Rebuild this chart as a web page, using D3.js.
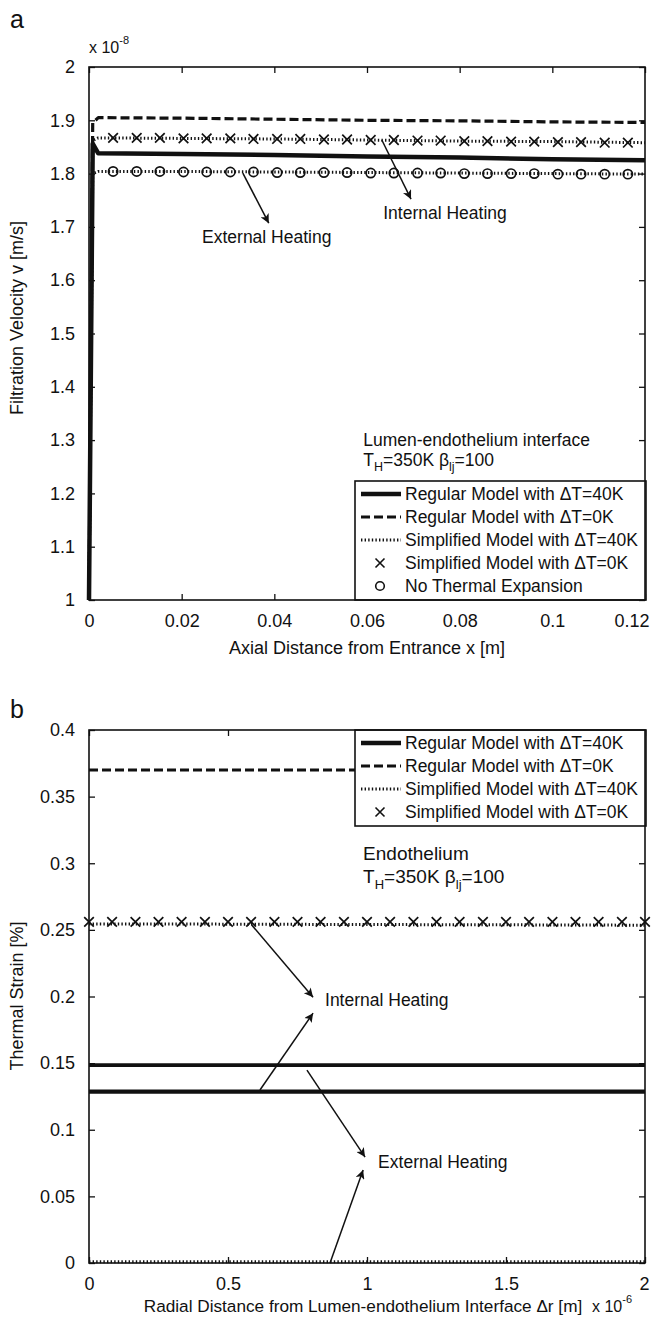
<!DOCTYPE html>
<html>
<head>
<meta charset="utf-8">
<script src="https://cdn.jsdelivr.net/npm/d3@7"></script>
<style>
  html, body { margin: 0; padding: 0; background: #fff; }
  svg text { font-family: "Liberation Sans", Arial, sans-serif; fill: #111; }
</style>
</head>
<body>
<svg id="fig" width="652" height="1320"></svg>
<script>
// ---------- Panel a: filtration velocity along the axis ----------
const axialX        = [0, 0.0008, 0.002, 0.02, 0.04, 0.06, 0.08, 0.10, 0.12];
const regular40A    = [1.0, 1.856, 1.838, 1.837, 1.835, 1.832, 1.830, 1.827, 1.825];
const regular0A     = [1.0, 1.895, 1.905, 1.904, 1.902, 1.900, 1.899, 1.897, 1.896];
const simplified40A = [1.0, 1.862, 1.867, 1.866, 1.865, 1.863, 1.861, 1.860, 1.858];
const noExpLineA    = [1.0, 1.800, 1.804, 1.804, 1.803, 1.802, 1.801, 1.800, 1.799];

const markerXA = [0.0052, 0.0103, 0.0153, 0.0204, 0.0254, 0.0305, 0.0355, 0.0406,
                  0.0456, 0.0507, 0.0557, 0.0608, 0.0658, 0.0709, 0.0759, 0.0810,
                  0.0860, 0.0911, 0.0961, 0.1012, 0.1062, 0.1113, 0.1163];
const simplified0A = [1.867, 1.867, 1.867, 1.866, 1.866, 1.866, 1.865, 1.865,
                      1.865, 1.864, 1.864, 1.863, 1.863, 1.862, 1.862, 1.861,
                      1.861, 1.860, 1.860, 1.859, 1.859, 1.858, 1.858];
const noExpansionA = [1.804, 1.804, 1.804, 1.803, 1.803, 1.803, 1.803, 1.802,
                      1.802, 1.802, 1.802, 1.801, 1.801, 1.801, 1.801, 1.800,
                      1.800, 1.800, 1.800, 1.799, 1.799, 1.799, 1.799];

const xTicksA = [0, 0.02, 0.04, 0.06, 0.08, 0.1, 0.12];
const yTicksA = [1, 1.1, 1.2, 1.3, 1.4, 1.5, 1.6, 1.7, 1.8, 1.9, 2];

// ---------- Panel b: thermal strain across the endothelium ----------
const radialX        = [0, 0.5, 1.0, 1.5, 2.0];           // x 10^-6 m
const regular0B      = [0.370, 0.370, 0.370, 0.370, 0.370];
const simplified40BI = [0.2545, 0.2543, 0.2540, 0.2538, 0.2535];
const regular40BE    = [0.1485, 0.1485, 0.1485, 0.1485, 0.1485];
const regular40BI    = [0.1286, 0.1286, 0.1286, 0.1286, 0.1286];
const simplified40BE = [0.001, 0.001, 0.001, 0.001, 0.001];

const markerXB = [0, 0.083, 0.167, 0.25, 0.333, 0.417, 0.5, 0.583, 0.667, 0.75,
                  0.833, 0.917, 1.0, 1.083, 1.167, 1.25, 1.333, 1.417, 1.5, 1.583,
                  1.667, 1.75, 1.833, 1.917, 2.0];
const simplified0B = [0.256, 0.256, 0.256, 0.256, 0.256, 0.256, 0.256, 0.256, 0.256,
                      0.256, 0.256, 0.256, 0.256, 0.256, 0.256, 0.256, 0.256, 0.256,
                      0.256, 0.256, 0.256, 0.256, 0.256, 0.256, 0.256];

const xTicksB = [0, 0.5, 1, 1.5, 2];
const yTicksB = [0, 0.05, 0.1, 0.15, 0.2, 0.25, 0.3, 0.35, 0.4];

const legendNames = [
  "Regular Model with \u0394T=40K",
  "Regular Model with \u0394T=0K",
  "Simplified Model with \u0394T=40K",
  "Simplified Model with \u0394T=0K",
  "No Thermal Expansion"
];

// ---------- drawing ----------
const svg = d3.select("#fig");
const FONT = 17.5;      // annotation / legend text
const TICK_FONT = 18;   // tick labels and axis titles

const defs = svg.append("defs");
defs.append("marker")
  .attr("id", "arrowhead")
  .attr("viewBox", "0 0 10 10")
  .attr("refX", 10).attr("refY", 5)
  .attr("markerUnits", "userSpaceOnUse")
  .attr("markerWidth", 12).attr("markerHeight", 9)
  .attr("orient", "auto")
  .append("path").attr("d", "M0,0 L10,5 L0,10 L2.5,5 Z").attr("fill", "#111");

const styles = {
  solid:  { width: 4.5, dash: null },
  dashed: { width: 3.2, dash: "9,4" },
  dotted: { width: 3, dash: "1.4,2.2" }
};

function frame(g, x, y, xTicks, yTicks, xFmt, yFmt) {
  const [x0, x1] = x.range(), [y1, y0] = y.range();
  const bottom = g.append("g").attr("transform", `translate(0,${y1})`)
    .call(d3.axisBottom(x).tickValues(xTicks).tickFormat(xFmt)
      .tickSizeInner(-6).tickSizeOuter(0).tickPadding(14));
  const left = g.append("g").attr("transform", `translate(${x0},0)`)
    .call(d3.axisLeft(y).tickValues(yTicks).tickFormat(yFmt)
      .tickSizeInner(-6).tickSizeOuter(0).tickPadding(14));
  const top = g.append("g").attr("transform", `translate(0,${y0})`)
    .call(d3.axisTop(x).tickValues(xTicks).tickFormat("")
      .tickSizeInner(-6).tickSizeOuter(0));
  const right = g.append("g").attr("transform", `translate(${x1},0)`)
    .call(d3.axisRight(y).tickValues(yTicks).tickFormat("")
      .tickSizeInner(-6).tickSizeOuter(0));
  [bottom, left, top, right].forEach(a => {
    a.select(".domain").remove();
    a.selectAll("line").attr("stroke", "#111").attr("stroke-width", 1.3);
    a.selectAll("text").style("font-size", TICK_FONT + "px")
      .attr("fill", "#111").style("font-family", "'Liberation Sans', Arial, sans-serif");
  });
  // keep the last x label inside the page
  bottom.selectAll(".tick:last-of-type text").attr("text-anchor", "end").attr("x", 4);
  return { x0, x1, y0, y1 };
}

function box(g, b) {
  g.append("rect").attr("x", b.x0).attr("y", b.y0)
    .attr("width", b.x1 - b.x0).attr("height", b.y1 - b.y0)
    .attr("fill", "none").attr("stroke", "#111").attr("stroke-width", 1.6);
}

function series(g, x, y, xs, ys, st) {
  const line = d3.line().x((d, i) => x(xs[i])).y(d => y(d));
  g.append("path").datum(ys).attr("d", line)
    .attr("fill", "none").attr("stroke", "#111")
    .attr("stroke-width", st.width)
    .attr("stroke-dasharray", st.dash)
    .attr("stroke-linejoin", "round");
}

function crosses(g, x, y, xs, ys) {
  g.selectAll(null).data(ys).enter().append("path")
    .attr("d", (d, i) => {
      const cx = x(xs[i]), cy = y(d), r = 4.8;
      return `M${cx - r},${cy - r}L${cx + r},${cy + r}M${cx - r},${cy + r}L${cx + r},${cy - r}`;
    })
    .attr("stroke", "#111").attr("stroke-width", 1.7).attr("fill", "none");
}

function circles(g, x, y, xs, ys) {
  g.selectAll(null).data(ys).enter().append("circle")
    .attr("cx", (d, i) => x(xs[i])).attr("cy", d => y(d)).attr("r", 4.6)
    .attr("fill", "none").attr("stroke", "#111").attr("stroke-width", 1.7);
}

function arrow(g, x, y, from, to) {
  g.append("line")
    .attr("x1", x(from[0])).attr("y1", y(from[1]))
    .attr("x2", x(to[0])).attr("y2", y(to[1]))
    .attr("stroke", "#111").attr("stroke-width", 1.5)
    .attr("marker-end", "url(#arrowhead)");
}

function label(g, x, y, pos, parts, size) {
  const fs = size || FONT;
  const t = g.append("text").attr("x", x(pos[0])).attr("y", y(pos[1]))
    .style("font-size", fs + "px");
  parts.forEach(p => {
    if (typeof p === "string") t.append("tspan").text(p);
    else t.append("tspan").attr("dy", p.dy).style("font-size", p.size + "px").text(p.t);
  });
  return t;
}

function legend(g, b, rows) {
  const lx0 = 355, rowH = 23;
  const h = rows.length * rowH + 4;
  const top = b.legendTop;
  g.append("rect").attr("x", lx0).attr("y", top).attr("width", b.x1 - lx0 + 1).attr("height", h)
    .attr("fill", "#fff").attr("stroke", "#111").attr("stroke-width", 1.6);
  rows.forEach((r, i) => {
    const cy = top + 13 + i * rowH;
    if (r.kind === "line") {
      g.append("line").attr("x1", lx0 + 6).attr("x2", lx0 + 46).attr("y1", cy).attr("y2", cy)
        .attr("stroke", "#111").attr("stroke-width", r.st.width).attr("stroke-dasharray", r.st.dash);
    } else if (r.kind === "cross") {
      const cx = lx0 + 25, s = 4.5;
      g.append("path").attr("d", `M${cx - s},${cy - s}L${cx + s},${cy + s}M${cx - s},${cy + s}L${cx + s},${cy - s}`)
        .attr("stroke", "#111").attr("stroke-width", 1.6);
    } else {
      g.append("circle").attr("cx", lx0 + 25).attr("cy", cy).attr("r", 4.3)
        .attr("fill", "none").attr("stroke", "#111").attr("stroke-width", 1.6);
    }
    g.append("text").attr("x", lx0 + 50).attr("y", cy + 6).style("font-size", FONT + "px").text(r.name);
  });
}

// ===== Panel a =====
{
  const g = svg.append("g");
  const x = d3.scaleLinear().domain([0, 0.12]).range([89, 645]);
  const y = d3.scaleLinear().domain([1, 2]).range([600, 67]);
  const b = frame(g, x, y, xTicksA, yTicksA, d => String(d), d => String(d));

  const plot = g.append("g");
  series(plot, x, y, axialX, noExpLineA, styles.dotted);
  series(plot, x, y, axialX, simplified40A, styles.dotted);
  series(plot, x, y, axialX, regular0A, styles.dashed);
  series(plot, x, y, axialX, regular40A, styles.solid);
  crosses(plot, x, y, markerXA, simplified0A);
  circles(plot, x, y, markerXA, noExpansionA);

  arrow(g, x, y, [0.0332, 1.801], [0.0388, 1.707]);
  arrow(g, x, y, [0.0632, 1.863], [0.0695, 1.752]);
  label(g, x, y, [0.0244, 1.670], ["External Heating"]);
  label(g, x, y, [0.0635, 1.715], ["Internal Heating"]);
  label(g, x, y, [0.0592, 1.2895], ["Lumen-endothelium interface"]);
  label(g, x, y, [0.0592, 1.2515], ["T", { t: "H", dy: 5, size: 12.5 }, { t: "=350K  \u03b2", dy: -5, size: FONT },
                                    { t: "lj", dy: 5, size: 12.5 }, { t: "=100", dy: -5, size: FONT }]);

  b.legendTop = 481;
  legend(g, b, [
    { kind: "line", st: styles.solid, name: legendNames[0] },
    { kind: "line", st: styles.dashed, name: legendNames[1] },
    { kind: "line", st: styles.dotted, name: legendNames[2] },
    { kind: "cross", name: legendNames[3] },
    { kind: "circle", name: legendNames[4] }
  ]);
  box(g, b);

  g.append("text").attr("x", 10).attr("y", 28).style("font-size", "25px").text("a");
  const exp = g.append("text").attr("x", 89).attr("y", 53).style("font-size", "16px");
  exp.append("tspan").text("x 10");
  exp.append("tspan").attr("dy", -9).style("font-size", "11px").text("-8");
  g.append("text").attr("x", 367).attr("y", 654).attr("text-anchor", "middle")
    .style("font-size", TICK_FONT + "px").text("Axial Distance from Entrance x [m]");
  g.append("text").attr("transform", "translate(23,318) rotate(-90)").attr("text-anchor", "middle")
    .style("font-size", TICK_FONT + "px").text("Filtration Velocity v [m/s]");
}

// ===== Panel b =====
{
  const g = svg.append("g");
  const x = d3.scaleLinear().domain([0, 2]).range([89, 645]);
  const y = d3.scaleLinear().domain([0, 0.4]).range([1263, 730]);
  const b = frame(g, x, y, xTicksB, yTicksB, d => String(d), d => String(d));

  const plot = g.append("g");
  series(plot, x, y, radialX, simplified40BE, styles.dotted);
  series(plot, x, y, radialX, simplified40BI, styles.dotted);
  series(plot, x, y, radialX, regular0B, styles.dashed);
  series(plot, x, y, radialX, regular40BE, { width: 3.6, dash: null });
  series(plot, x, y, radialX, regular40BI, { width: 4.2, dash: null });
  crosses(plot, x, y, markerXB, simplified0B);

  arrow(g, x, y, [0.586, 0.2535], [0.806, 0.1995]);
  arrow(g, x, y, [0.615, 0.1298], [0.806, 0.1875]);
  arrow(g, x, y, [0.784, 0.1448], [0.993, 0.0795]);
  arrow(g, x, y, [0.867, 0.0], [0.986, 0.0698]);
  label(g, x, y, [0.849, 0.193], ["Internal Heating"]);
  label(g, x, y, [1.04, 0.071], ["External Heating"]);
  label(g, x, y, [0.986, 0.3025], ["Endothelium"], 19);
  label(g, x, y, [0.986, 0.2855], ["T", { t: "H", dy: 6, size: 13 }, { t: "=350K \u03b2", dy: -6, size: 19 },
                                    { t: "lj", dy: 6, size: 13 }, { t: "=100", dy: -6, size: 19 }], 19);

  b.legendTop = 730;
  legend(g, b, [
    { kind: "line", st: styles.solid, name: legendNames[0] },
    { kind: "line", st: styles.dashed, name: legendNames[1] },
    { kind: "line", st: styles.dotted, name: legendNames[2] },
    { kind: "cross", name: legendNames[3] }
  ]);
  box(g, b);

  g.append("text").attr("x", 10).attr("y", 718).style("font-size", "25px").text("b");
  g.append("text").attr("x", 363).attr("y", 1312).attr("text-anchor", "middle")
    .style("font-size", "17.2px").text("Radial Distance from Lumen-endothelium Interface \u0394r [m]");
  const exp = g.append("text").attr("x", 592).attr("y", 1312).style("font-size", "16px");
  exp.append("tspan").text("x 10");
  exp.append("tspan").attr("dy", -9).style("font-size", "11px").text("-6");
  g.append("text").attr("transform", "translate(23,996) rotate(-90)").attr("text-anchor", "middle")
    .style("font-size", TICK_FONT + "px").text("Thermal Strain [%]");
}
</script>
</body>
</html>
